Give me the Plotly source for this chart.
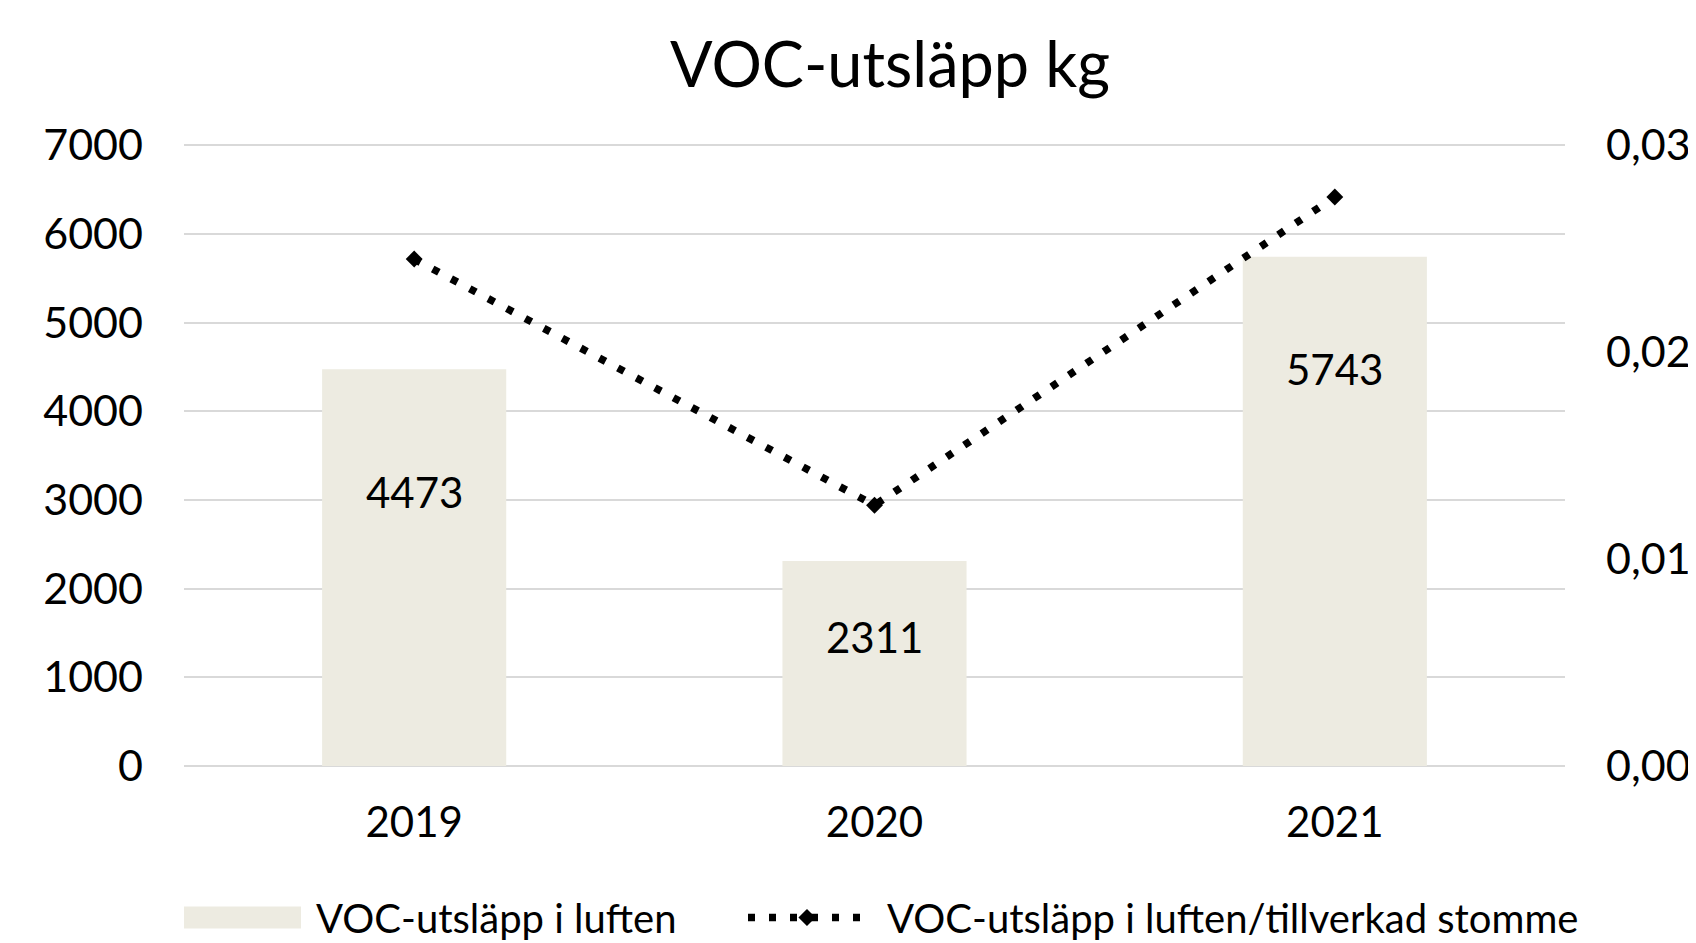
import plotly.graph_objects as go

years = [2019, 2020, 2021]
voc_kg = [4473, 2311, 5743]
voc_per_frame = [0.0245, 0.0126, 0.0275]
left_ticks = [0, 1000, 2000, 3000, 4000, 5000, 6000, 7000]
right_ticks = [0.00, 0.01, 0.02, 0.03]
bar_name = "VOC-utsläpp i luften"
line_name = "VOC-utsläpp i luften/tillverkad stomme"

# style: where each data label sits, as a fraction of its bar height
label_frac = [0.69, 0.63, 0.78]

FONT = "Lato"
BAR_COLOR = "#EDEBE1"
DASH = "7px,14px"
fig = go.Figure()
fig.add_trace(go.Bar(
    x=years, y=voc_kg, name=bar_name, showlegend=False,
    marker=dict(color=BAR_COLOR, line=dict(width=0)),
))
fig.add_trace(go.Scatter(
    x=years, y=voc_per_frame, yaxis="y2", mode="lines+markers",
    name=line_name, showlegend=False,
    line=dict(color="black", width=7.5, dash=DASH),
    marker=dict(symbol="diamond", size=13, color="black"),
))
for yr, v, f in zip(years, voc_kg, label_frac):
    fig.add_annotation(x=yr, y=v * f, text=str(v), showarrow=False,
                       font=dict(family=FONT, size=42, color="black"))

# manual legend (paper coordinates)
LY = -0.2432
fig.add_shape(type="rect", xref="paper", yref="paper", x0=0, x1=0.0847,
              y0=-0.2254, y1=-0.2609, fillcolor=BAR_COLOR, line=dict(width=0))
fig.add_annotation(xref="paper", yref="paper", x=0.0941, y=LY, xanchor="left",
                   yanchor="middle", text=bar_name, showarrow=False,
                   font=dict(family=FONT, size=40, color="black"))
fig.add_shape(type="line", xref="paper", yref="paper", x0=0.4084, x1=0.4931,
              y0=LY, y1=LY, line=dict(color="black", width=7.5, dash=DASH))
dx, dy = 0.0062, 0.0137
cx = 0.4511
fig.add_shape(type="path", xref="paper", yref="paper",
              path=f"M {cx-dx},{LY} L {cx},{LY+dy} L {cx+dx},{LY} L {cx},{LY-dy} Z",
              fillcolor="black", line=dict(width=0))
fig.add_annotation(xref="paper", yref="paper", x=0.5076, y=LY, xanchor="left",
                   yanchor="middle", text=line_name, showarrow=False,
                   font=dict(family=FONT, size=40, color="black"))

W, H = 1696, 943
fig.update_layout(
    width=W, height=H,
    paper_bgcolor="white", plot_bgcolor="white",
    margin=dict(l=176, r=139, t=135, b=185, autoexpand=False),
    title=dict(text="VOC-utsläpp kg", x=882 / W, xanchor="center", y=1 - 57 / H,
               yanchor="middle", font=dict(family=FONT, size=63, color="black")),
    font=dict(family=FONT, size=42, color="black"),
    bargap=0.6,
    showlegend=False,
    xaxis=dict(range=[2018.5, 2021.5], tickvals=years, showgrid=False, showline=False,
               zeroline=False, ticks="", automargin=False,
               tickfont=dict(family=FONT, size=42, color="black"), ticklabelstandoff=28),
    yaxis=dict(range=[0, 7025], tickvals=left_ticks, showgrid=True, gridcolor="#D9D9D9",
               gridwidth=2, zeroline=True, zerolinecolor="#D9D9D9", zerolinewidth=2,
               showline=False, ticks="", ticklabelstandoff=40, automargin=False,
               tickfont=dict(family=FONT, size=43, color="black")),
    yaxis2=dict(range=[0, 0.03 * 7025 / 7000], tickvals=right_ticks,
                ticktext=[f"{t:.2f}".replace(".", ",") for t in right_ticks],
                overlaying="y", side="right", showgrid=False, zeroline=False,
                showline=False, ticks="", ticklabelstandoff=40, automargin=False,
                tickfont=dict(family=FONT, size=43, color="black")),
)
fig.write_html("out.html")
